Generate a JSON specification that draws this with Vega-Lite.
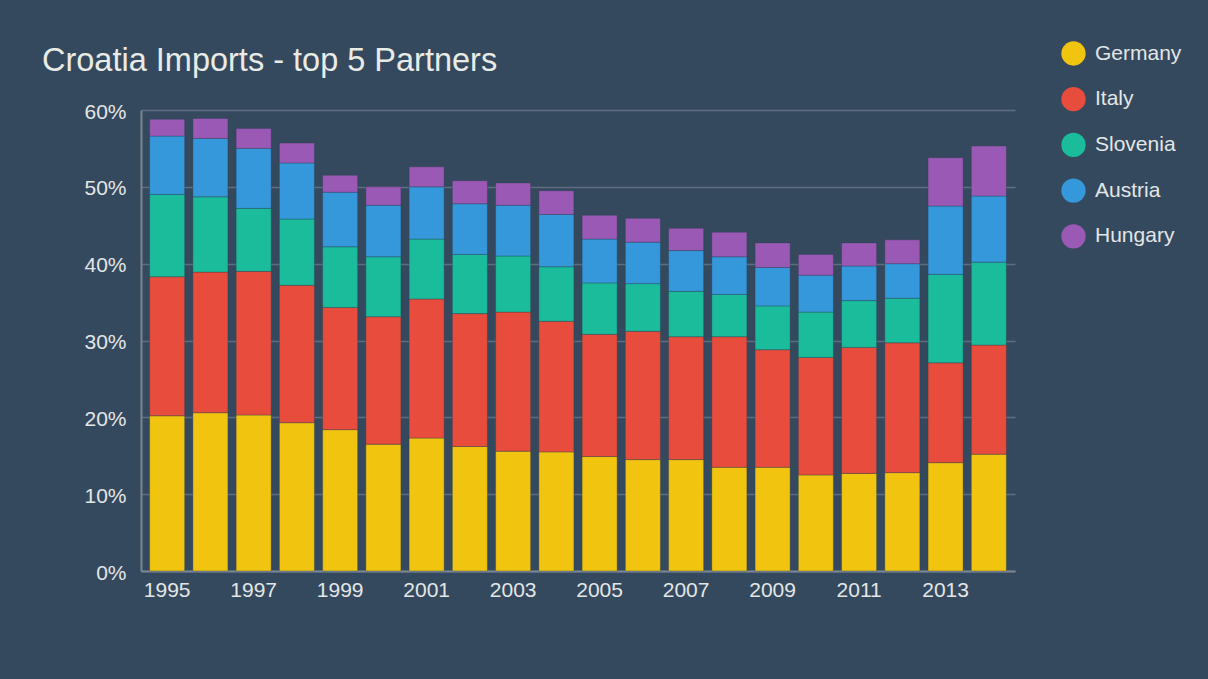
{
  "$schema": "https://vega.github.io/schema/vega-lite/v6.json",
  "autosize": {"type": "none"},
  "width": 874,
  "height": 461,
  "padding": {"left": 141, "top": 110, "right": 193, "bottom": 108},
  "background": "#35495e",
  "title": {
    "text": "Croatia Imports - top 5 Partners",
    "anchor": "start",
    "frame": "group",
    "dx": -99,
    "dy": 89,
    "offset": 27,
    "baseline": "alphabetic",
    "font": "Liberation Sans",
    "fontSize": 32.5,
    "fontWeight": "normal",
    "color": "#e8ebe6"
  },
  "config": {
    "view": {"stroke": null},
    "font": "Liberation Sans"
  },
  "datasets": {
    "shares": [
      {"year": "1995", "partner": "Germany", "k": 0, "share": 20.2},
      {"year": "1995", "partner": "Italy", "k": 1, "share": 18.1},
      {"year": "1995", "partner": "Slovenia", "k": 2, "share": 10.7},
      {"year": "1995", "partner": "Austria", "k": 3, "share": 7.6},
      {"year": "1995", "partner": "Hungary", "k": 4, "share": 2.2},
      {"year": "1996", "partner": "Germany", "k": 0, "share": 20.6},
      {"year": "1996", "partner": "Italy", "k": 1, "share": 18.3},
      {"year": "1996", "partner": "Slovenia", "k": 2, "share": 9.8},
      {"year": "1996", "partner": "Austria", "k": 3, "share": 7.6},
      {"year": "1996", "partner": "Hungary", "k": 4, "share": 2.6},
      {"year": "1997", "partner": "Germany", "k": 0, "share": 20.3},
      {"year": "1997", "partner": "Italy", "k": 1, "share": 18.7},
      {"year": "1997", "partner": "Slovenia", "k": 2, "share": 8.2},
      {"year": "1997", "partner": "Austria", "k": 3, "share": 7.8},
      {"year": "1997", "partner": "Hungary", "k": 4, "share": 2.6},
      {"year": "1998", "partner": "Germany", "k": 0, "share": 19.3},
      {"year": "1998", "partner": "Italy", "k": 1, "share": 17.9},
      {"year": "1998", "partner": "Slovenia", "k": 2, "share": 8.6},
      {"year": "1998", "partner": "Austria", "k": 3, "share": 7.3},
      {"year": "1998", "partner": "Hungary", "k": 4, "share": 2.6},
      {"year": "1999", "partner": "Germany", "k": 0, "share": 18.4},
      {"year": "1999", "partner": "Italy", "k": 1, "share": 15.9},
      {"year": "1999", "partner": "Slovenia", "k": 2, "share": 7.9},
      {"year": "1999", "partner": "Austria", "k": 3, "share": 7.1},
      {"year": "1999", "partner": "Hungary", "k": 4, "share": 2.2},
      {"year": "2000", "partner": "Germany", "k": 0, "share": 16.5},
      {"year": "2000", "partner": "Italy", "k": 1, "share": 16.6},
      {"year": "2000", "partner": "Slovenia", "k": 2, "share": 7.8},
      {"year": "2000", "partner": "Austria", "k": 3, "share": 6.7},
      {"year": "2000", "partner": "Hungary", "k": 4, "share": 2.4},
      {"year": "2001", "partner": "Germany", "k": 0, "share": 17.3},
      {"year": "2001", "partner": "Italy", "k": 1, "share": 18.1},
      {"year": "2001", "partner": "Slovenia", "k": 2, "share": 7.8},
      {"year": "2001", "partner": "Austria", "k": 3, "share": 6.8},
      {"year": "2001", "partner": "Hungary", "k": 4, "share": 2.6},
      {"year": "2002", "partner": "Germany", "k": 0, "share": 16.2},
      {"year": "2002", "partner": "Italy", "k": 1, "share": 17.3},
      {"year": "2002", "partner": "Slovenia", "k": 2, "share": 7.7},
      {"year": "2002", "partner": "Austria", "k": 3, "share": 6.6},
      {"year": "2002", "partner": "Hungary", "k": 4, "share": 3.0},
      {"year": "2003", "partner": "Germany", "k": 0, "share": 15.6},
      {"year": "2003", "partner": "Italy", "k": 1, "share": 18.1},
      {"year": "2003", "partner": "Slovenia", "k": 2, "share": 7.3},
      {"year": "2003", "partner": "Austria", "k": 3, "share": 6.6},
      {"year": "2003", "partner": "Hungary", "k": 4, "share": 2.9},
      {"year": "2004", "partner": "Germany", "k": 0, "share": 15.5},
      {"year": "2004", "partner": "Italy", "k": 1, "share": 17.0},
      {"year": "2004", "partner": "Slovenia", "k": 2, "share": 7.1},
      {"year": "2004", "partner": "Austria", "k": 3, "share": 6.8},
      {"year": "2004", "partner": "Hungary", "k": 4, "share": 3.1},
      {"year": "2005", "partner": "Germany", "k": 0, "share": 14.9},
      {"year": "2005", "partner": "Italy", "k": 1, "share": 15.9},
      {"year": "2005", "partner": "Slovenia", "k": 2, "share": 6.7},
      {"year": "2005", "partner": "Austria", "k": 3, "share": 5.7},
      {"year": "2005", "partner": "Hungary", "k": 4, "share": 3.1},
      {"year": "2006", "partner": "Germany", "k": 0, "share": 14.5},
      {"year": "2006", "partner": "Italy", "k": 1, "share": 16.7},
      {"year": "2006", "partner": "Slovenia", "k": 2, "share": 6.2},
      {"year": "2006", "partner": "Austria", "k": 3, "share": 5.4},
      {"year": "2006", "partner": "Hungary", "k": 4, "share": 3.1},
      {"year": "2007", "partner": "Germany", "k": 0, "share": 14.5},
      {"year": "2007", "partner": "Italy", "k": 1, "share": 16.0},
      {"year": "2007", "partner": "Slovenia", "k": 2, "share": 5.9},
      {"year": "2007", "partner": "Austria", "k": 3, "share": 5.3},
      {"year": "2007", "partner": "Hungary", "k": 4, "share": 2.9},
      {"year": "2008", "partner": "Germany", "k": 0, "share": 13.5},
      {"year": "2008", "partner": "Italy", "k": 1, "share": 17.0},
      {"year": "2008", "partner": "Slovenia", "k": 2, "share": 5.5},
      {"year": "2008", "partner": "Austria", "k": 3, "share": 4.9},
      {"year": "2008", "partner": "Hungary", "k": 4, "share": 3.2},
      {"year": "2009", "partner": "Germany", "k": 0, "share": 13.5},
      {"year": "2009", "partner": "Italy", "k": 1, "share": 15.3},
      {"year": "2009", "partner": "Slovenia", "k": 2, "share": 5.7},
      {"year": "2009", "partner": "Austria", "k": 3, "share": 5.0},
      {"year": "2009", "partner": "Hungary", "k": 4, "share": 3.2},
      {"year": "2010", "partner": "Germany", "k": 0, "share": 12.5},
      {"year": "2010", "partner": "Italy", "k": 1, "share": 15.3},
      {"year": "2010", "partner": "Slovenia", "k": 2, "share": 5.9},
      {"year": "2010", "partner": "Austria", "k": 3, "share": 4.8},
      {"year": "2010", "partner": "Hungary", "k": 4, "share": 2.7},
      {"year": "2011", "partner": "Germany", "k": 0, "share": 12.7},
      {"year": "2011", "partner": "Italy", "k": 1, "share": 16.4},
      {"year": "2011", "partner": "Slovenia", "k": 2, "share": 6.1},
      {"year": "2011", "partner": "Austria", "k": 3, "share": 4.5},
      {"year": "2011", "partner": "Hungary", "k": 4, "share": 3.0},
      {"year": "2012", "partner": "Germany", "k": 0, "share": 12.8},
      {"year": "2012", "partner": "Italy", "k": 1, "share": 16.9},
      {"year": "2012", "partner": "Slovenia", "k": 2, "share": 5.8},
      {"year": "2012", "partner": "Austria", "k": 3, "share": 4.5},
      {"year": "2012", "partner": "Hungary", "k": 4, "share": 3.1},
      {"year": "2013", "partner": "Germany", "k": 0, "share": 14.1},
      {"year": "2013", "partner": "Italy", "k": 1, "share": 13.0},
      {"year": "2013", "partner": "Slovenia", "k": 2, "share": 11.5},
      {"year": "2013", "partner": "Austria", "k": 3, "share": 8.9},
      {"year": "2013", "partner": "Hungary", "k": 4, "share": 6.3},
      {"year": "2014", "partner": "Germany", "k": 0, "share": 15.2},
      {"year": "2014", "partner": "Italy", "k": 1, "share": 14.2},
      {"year": "2014", "partner": "Slovenia", "k": 2, "share": 10.8},
      {"year": "2014", "partner": "Austria", "k": 3, "share": 8.6},
      {"year": "2014", "partner": "Hungary", "k": 4, "share": 6.5}
    ]
  },
  "data": {"name": "shares"},
  "mark": {"type": "bar", "stroke": "#2c3e50", "strokeWidth": 1, "strokeOpacity": 0.35},
  "encoding": {
    "x": {
      "field": "year",
      "type": "ordinal",
      "scale": {"paddingInner": 0.19, "paddingOuter": 0.2},
      "axis": {
        "title": null,
        "labelAngle": 0,
        "values": ["1995", "1997", "1999", "2001", "2003", "2005", "2007", "2009", "2011", "2013"],
        "ticks": false,
        "tickSize": 0,
        "labelPadding": 8,
        "labelFont": "Liberation Sans",
        "labelFontSize": 21,
        "labelColor": "#e3e6e6",
        "domainColor": "#7b8794",
        "domainWidth": 2,
        "grid": false
      }
    },
    "y": {
      "field": "share",
      "type": "quantitative",
      "stack": "zero",
      "scale": {"domain": [0, 60], "nice": false},
      "axis": {
        "title": null,
        "values": [0, 10, 20, 30, 40, 50, 60],
        "labelExpr": "datum.value + '%'",
        "ticks": false,
        "tickSize": 0,
        "labelPadding": 15,
        "labelOffset": 2,
        "labelFont": "Liberation Sans",
        "labelFontSize": 21,
        "labelColor": "#e3e6e6",
        "domainColor": "#7b8794",
        "domainWidth": 2,
        "gridColor": "#5e6e7f",
        "gridWidth": 1.5
      }
    },
    "color": {
      "field": "partner",
      "type": "nominal",
      "scale": {
        "domain": ["Germany", "Italy", "Slovenia", "Austria", "Hungary"],
        "range": ["#f1c40f", "#e74c3c", "#1abc9c", "#3498db", "#9b59b6"]
      },
      "legend": {
        "title": null,
        "orient": "none",
        "legendX": 920,
        "legendY": -69,
        "padding": 0,
        "symbolType": "circle",
        "symbolSize": 590,
        "symbolStrokeWidth": 0,
        "symbolOpacity": 1,
        "labelFont": "Liberation Sans",
        "labelFontSize": 21,
        "labelColor": "#e3e6e6",
        "labelOffset": 9,
        "rowPadding": 20.7,
        "labelLimit": 200
      }
    },
    "order": {"field": "k", "type": "quantitative", "sort": "ascending"}
  }
}
